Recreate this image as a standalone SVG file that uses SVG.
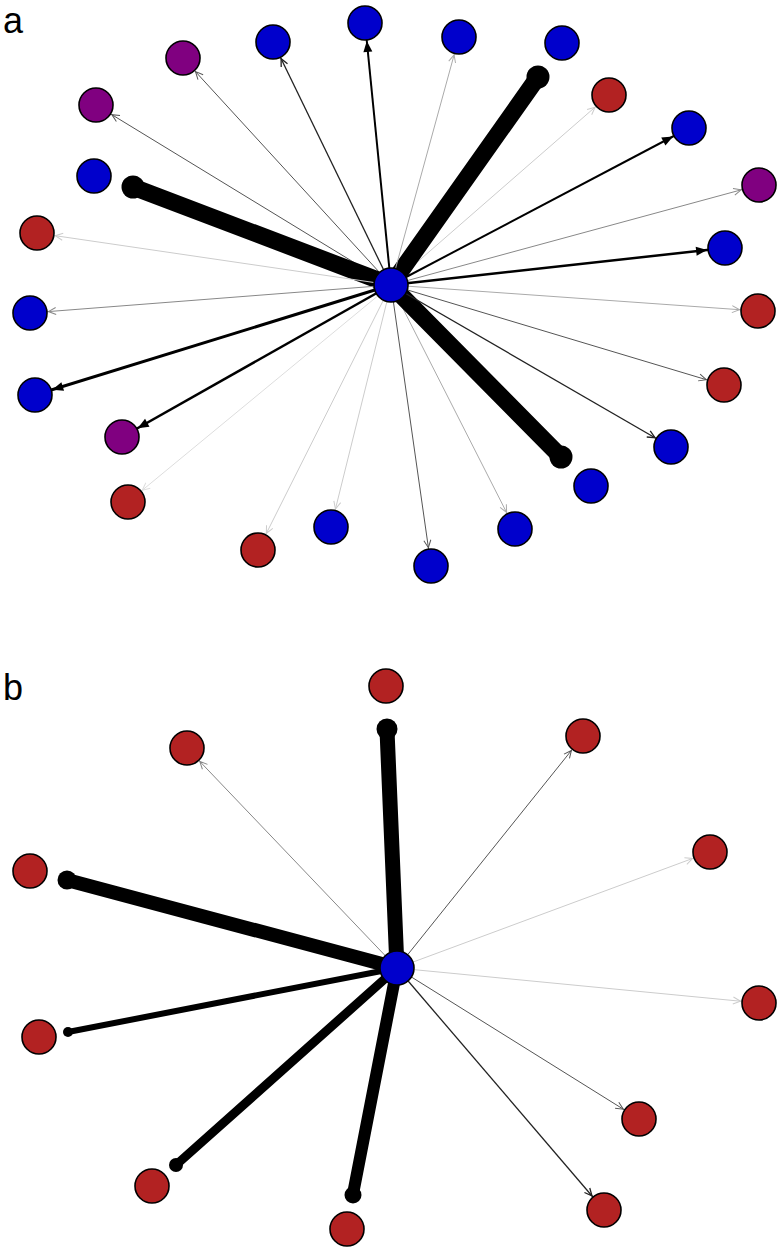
<svg xmlns="http://www.w3.org/2000/svg" width="783" height="1253" viewBox="0 0 783 1253">
<style>
.lbl{font-family:"Liberation Sans",Arial,sans-serif;font-size:36px;fill:#000}
.n{stroke:#000;stroke-width:1.6}
.bl{fill:#0000CC}
.pu{fill:#800080}
.rd{fill:#B22222}
.e{fill:none}
.k{stroke:#000;stroke-linecap:round}
.g0{stroke:#222;stroke-width:1.3}
.g1{stroke:#555;stroke-width:1}
.g2{stroke:#888;stroke-width:1}
.g3{stroke:#aaa;stroke-width:1}
.g4{stroke:#ccc;stroke-width:1}
.g5{stroke:#ddd;stroke-width:1}
</style>
<defs>
<marker id="a0" markerUnits="userSpaceOnUse" viewBox="-30 -8 32 16" markerWidth="32" markerHeight="16" refX="0" refY="0" orient="auto" overflow="visible"><path d="M-26,-3.5 L-18.5,0 L-26,3.5" fill="none" stroke="#222" stroke-width="1.3"/></marker>
<marker id="a1" markerUnits="userSpaceOnUse" viewBox="-30 -8 32 16" markerWidth="32" markerHeight="16" refX="0" refY="0" orient="auto" overflow="visible"><path d="M-26,-3.5 L-18.5,0 L-26,3.5" fill="none" stroke="#555" stroke-width="1"/></marker>
<marker id="a2" markerUnits="userSpaceOnUse" viewBox="-30 -8 32 16" markerWidth="32" markerHeight="16" refX="0" refY="0" orient="auto" overflow="visible"><path d="M-26,-3.5 L-18.5,0 L-26,3.5" fill="none" stroke="#888" stroke-width="1"/></marker>
<marker id="a3" markerUnits="userSpaceOnUse" viewBox="-30 -8 32 16" markerWidth="32" markerHeight="16" refX="0" refY="0" orient="auto" overflow="visible"><path d="M-26,-3.5 L-18.5,0 L-26,3.5" fill="none" stroke="#aaa" stroke-width="1"/></marker>
<marker id="a4" markerUnits="userSpaceOnUse" viewBox="-30 -8 32 16" markerWidth="32" markerHeight="16" refX="0" refY="0" orient="auto" overflow="visible"><path d="M-26,-3.5 L-18.5,0 L-26,3.5" fill="none" stroke="#ccc" stroke-width="1"/></marker>
<marker id="a5" markerUnits="userSpaceOnUse" viewBox="-30 -8 32 16" markerWidth="32" markerHeight="16" refX="0" refY="0" orient="auto" overflow="visible"><path d="M-26,-3.5 L-18.5,0 L-26,3.5" fill="none" stroke="#ddd" stroke-width="1"/></marker>
<marker id="ak" markerUnits="userSpaceOnUse" viewBox="-32 -8 34 16" markerWidth="34" markerHeight="16" refX="0" refY="0" orient="auto" overflow="visible"><path d="M-29,-4.5 L-18,0 L-29,4.5 Z" fill="#000"/></marker>
</defs>
<rect width="783" height="1253" fill="#fff"/>
<text class="lbl" x="3" y="33">a</text>
<text class="lbl" x="3" y="700">b</text>
<g id="connectors">
<!-- panel a -->
<line class="e g1" x1="391" y1="285" x2="183" y2="58" marker-end="url(#a1)"/>
<line class="e g1" x1="391" y1="285" x2="96" y2="105" marker-end="url(#a1)"/>
<line class="e k" stroke-width="17" x1="391" y1="285" x2="133" y2="187"/>
<circle cx="133" cy="187" r="11.5" fill="#000"/>
<line class="e g4" x1="391" y1="285" x2="37" y2="233" marker-end="url(#a4)"/>
<line class="e g2" x1="391" y1="285" x2="30" y2="313" marker-end="url(#a2)"/>
<line class="e" stroke="#000" stroke-width="3" x1="391" y1="285" x2="35" y2="395" marker-end="url(#ak)"/>
<line class="e" stroke="#000" stroke-width="2.5" x1="391" y1="285" x2="122" y2="437" marker-end="url(#ak)"/>
<line class="e g5" x1="391" y1="285" x2="128" y2="502" marker-end="url(#a5)"/>
<line class="e g4" x1="391" y1="285" x2="258" y2="550" marker-end="url(#a4)"/>
<line class="e g4" x1="391" y1="285" x2="331" y2="527" marker-end="url(#a4)"/>
<line class="e g1" x1="391" y1="285" x2="431" y2="566" marker-end="url(#a1)"/>
<line class="e g3" x1="391" y1="285" x2="515" y2="529" marker-end="url(#a3)"/>
<line class="e k" stroke-width="17" x1="391" y1="285" x2="561" y2="457"/>
<circle cx="561" cy="457" r="11.5" fill="#000"/>
<line class="e g0" x1="391" y1="285" x2="671" y2="447" marker-end="url(#a0)"/>
<line class="e g1" x1="391" y1="285" x2="724" y2="385" marker-end="url(#a1)"/>
<line class="e g3" x1="391" y1="285" x2="758" y2="311" marker-end="url(#a3)"/>
<line class="e" stroke="#000" stroke-width="2.5" x1="391" y1="285" x2="725" y2="248" marker-end="url(#ak)"/>
<line class="e g2" x1="391" y1="285" x2="759" y2="185" marker-end="url(#a2)"/>
<line class="e" stroke="#000" stroke-width="2" x1="391" y1="285" x2="689" y2="128" marker-end="url(#ak)"/>
<line class="e g4" x1="391" y1="285" x2="609" y2="95" marker-end="url(#a4)"/>
<line class="e k" stroke-width="17" x1="391" y1="285" x2="538" y2="77"/>
<circle cx="538" cy="77" r="11.5" fill="#000"/>
<line class="e g3" x1="391" y1="285" x2="459" y2="37" marker-end="url(#a3)"/>
<line class="e" stroke="#000" stroke-width="2" x1="391" y1="285" x2="365" y2="23" marker-end="url(#ak)"/>
<line class="e g0" x1="391" y1="285" x2="273" y2="42" marker-end="url(#a0)"/>
<!-- panel b -->
<line class="e k" stroke-width="15" x1="397" y1="968" x2="387" y2="730"/>
<circle cx="387" cy="729" r="10.5" fill="#000"/>
<line class="e g2" x1="397" y1="968" x2="187" y2="748" marker-end="url(#a2)"/>
<line class="e k" stroke-width="14" x1="397" y1="968" x2="67" y2="880"/>
<circle cx="67" cy="880" r="9.5" fill="#000"/>
<line class="e g1" x1="397" y1="968" x2="583" y2="736" marker-end="url(#a1)"/>
<line class="e g4" x1="397" y1="968" x2="710" y2="852" marker-end="url(#a4)"/>
<line class="e g4" x1="397" y1="968" x2="759" y2="1003" marker-end="url(#a4)"/>
<line class="e g1" x1="397" y1="968" x2="639" y2="1119" marker-end="url(#a1)"/>
<line class="e g0" x1="397" y1="968" x2="604" y2="1210" marker-end="url(#a0)"/>
<line class="e k" stroke-width="12" x1="397" y1="968" x2="353" y2="1194"/>
<circle cx="353" cy="1195" r="8.5" fill="#000"/>
<line class="e k" stroke-width="9" x1="397" y1="968" x2="176" y2="1165"/>
<circle cx="176" cy="1165" r="7" fill="#000"/>
<line class="e k" stroke-width="6" x1="397" y1="968" x2="68" y2="1032"/>
<circle cx="68" cy="1032" r="5" fill="#000"/>
</g>
<!-- panel a nodes -->
<g id="a_center"><circle class="n bl" cx="391" cy="285" r="17"/></g>
<g id="a_n1"><circle class="n pu" cx="183" cy="58" r="17"/></g>
<g id="a_n2"><circle class="n pu" cx="96" cy="105" r="17"/></g>
<g id="a_n3"><circle class="n bl" cx="94" cy="176" r="17"/></g>
<g id="a_n4"><circle class="n rd" cx="37" cy="233" r="17"/></g>
<g id="a_n5"><circle class="n bl" cx="30" cy="313" r="17"/></g>
<g id="a_n6"><circle class="n bl" cx="35" cy="395" r="17"/></g>
<g id="a_n7"><circle class="n pu" cx="122" cy="437" r="17"/></g>
<g id="a_n8"><circle class="n rd" cx="128" cy="502" r="17"/></g>
<g id="a_n9"><circle class="n rd" cx="258" cy="550" r="17"/></g>
<g id="a_n10"><circle class="n bl" cx="331" cy="527" r="17"/></g>
<g id="a_n11"><circle class="n bl" cx="431" cy="566" r="17"/></g>
<g id="a_n12"><circle class="n bl" cx="515" cy="529" r="17"/></g>
<g id="a_n13"><circle class="n bl" cx="591" cy="486" r="17"/></g>
<g id="a_n14"><circle class="n bl" cx="671" cy="447" r="17"/></g>
<g id="a_n15"><circle class="n rd" cx="724" cy="385" r="17"/></g>
<g id="a_n16"><circle class="n rd" cx="758" cy="311" r="17"/></g>
<g id="a_n17"><circle class="n bl" cx="725" cy="248" r="17"/></g>
<g id="a_n18"><circle class="n pu" cx="759" cy="185" r="17"/></g>
<g id="a_n19"><circle class="n bl" cx="689" cy="128" r="17"/></g>
<g id="a_n20"><circle class="n rd" cx="609" cy="95" r="17"/></g>
<g id="a_n21"><circle class="n bl" cx="562" cy="43" r="17"/></g>
<g id="a_n22"><circle class="n bl" cx="459" cy="37" r="17"/></g>
<g id="a_n23"><circle class="n bl" cx="365" cy="23" r="17"/></g>
<g id="a_n24"><circle class="n bl" cx="273" cy="42" r="17"/></g>
<!-- panel b nodes -->
<g id="b_center"><circle class="n bl" cx="397" cy="968" r="17"/></g>
<g id="b_n1"><circle class="n rd" cx="386" cy="686" r="17"/></g>
<g id="b_n2"><circle class="n rd" cx="187" cy="748" r="17"/></g>
<g id="b_n3"><circle class="n rd" cx="30" cy="871" r="17"/></g>
<g id="b_n4"><circle class="n rd" cx="583" cy="736" r="17"/></g>
<g id="b_n5"><circle class="n rd" cx="710" cy="852" r="17"/></g>
<g id="b_n6"><circle class="n rd" cx="759" cy="1003" r="17"/></g>
<g id="b_n7"><circle class="n rd" cx="639" cy="1119" r="17"/></g>
<g id="b_n8"><circle class="n rd" cx="604" cy="1210" r="17"/></g>
<g id="b_n9"><circle class="n rd" cx="347" cy="1229" r="17"/></g>
<g id="b_n10"><circle class="n rd" cx="152" cy="1186" r="17"/></g>
<g id="b_n11"><circle class="n rd" cx="39" cy="1037" r="17"/></g>
</svg>
